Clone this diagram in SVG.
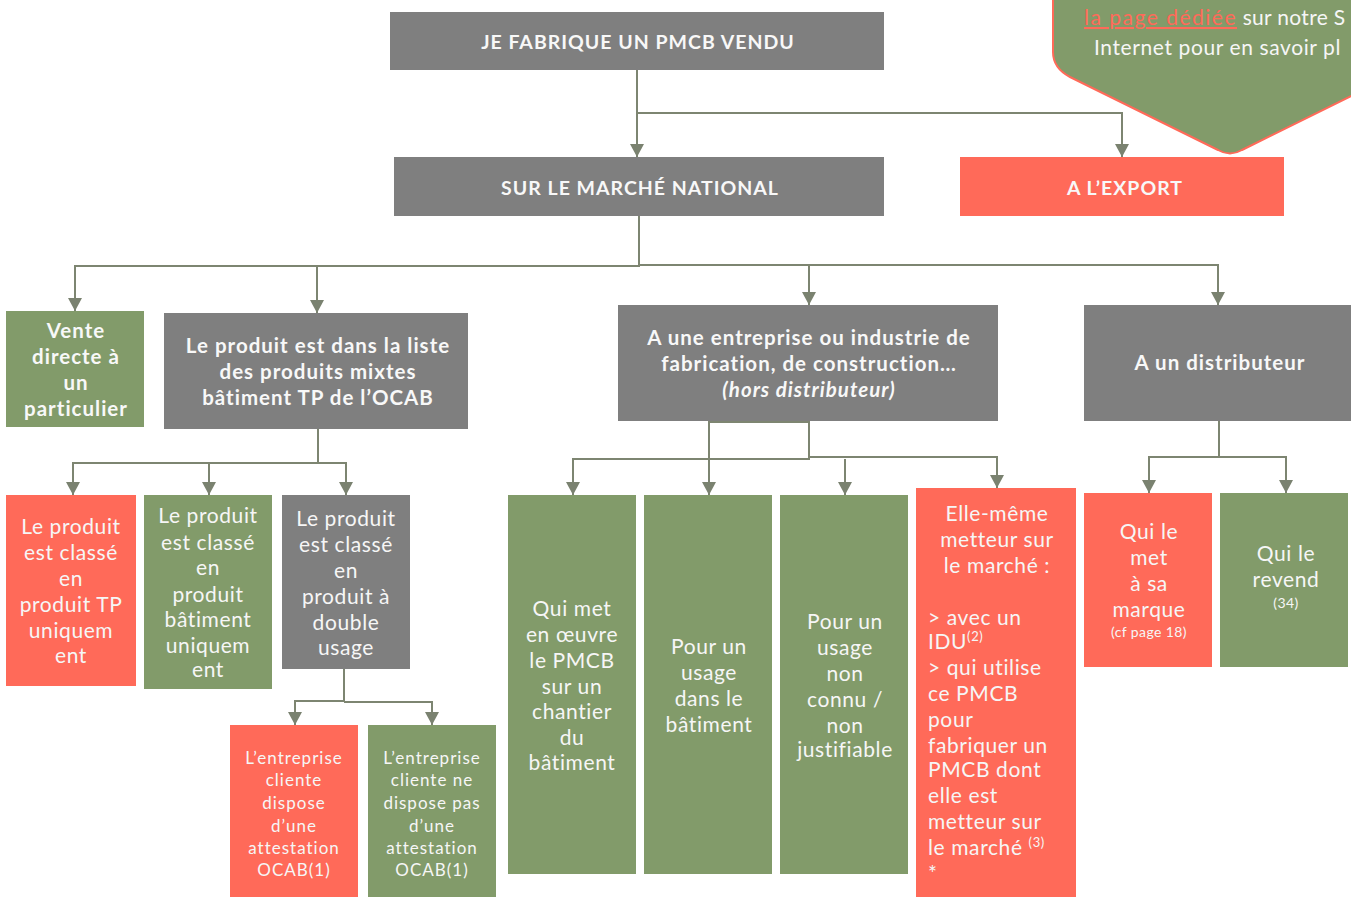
<svg xmlns="http://www.w3.org/2000/svg" width="1351" height="897" viewBox="0 0 1351 897">
<style>
.g{fill:#7f7f7f}.gr{fill:#829b6a}.r{fill:#ff6a59}
.b{font-family:Lato,"Open Sans","Liberation Sans",sans-serif;font-weight:bold;fill:#f8f8f8;text-anchor:middle;letter-spacing:1px}
.l{font-family:Lato,"Open Sans","Liberation Sans",sans-serif;font-weight:normal;fill:#f6f6f6;text-anchor:middle;font-size:21px;letter-spacing:0.6px}
.s{font-size:17px;letter-spacing:1px}
.xs{font-size:14px;letter-spacing:0.4px}
.c{fill:none;stroke:#7d8571;stroke-width:2}
</style>
<defs>
<marker id="a" markerUnits="userSpaceOnUse" viewBox="0 -7 13 14" refX="13" refY="0" markerWidth="13" markerHeight="14" orient="auto">
<path d="M0,-7 L13,0 L0,7 z" fill="#7a8270"/>
</marker>
</defs>

<g id="callout">
<path d="M1053,-10 V52 Q1053,68 1070,77 L1218,150 Q1230,157 1242,150 L1420,62 V-10 Z" fill="#829b6a" stroke="#ff6a59" stroke-width="2"/>
<text class="l" style="text-anchor:start;letter-spacing:0.3px" x="1084" y="25"><tspan fill="#ff6a59" text-decoration="underline" letter-spacing="1.5">la page dédiée</tspan> sur notre S</text>
<text class="l" style="text-anchor:start;letter-spacing:0.6px" x="1094" y="55">Internet pour en savoir pl</text>
</g>

<g id="connectors">
<path class="c" d="M637,70 V157" marker-end="url(#a)"/>
<path class="c" d="M637,113 H1122 V157" marker-end="url(#a)"/>
<path class="c" d="M639,216 V266 H75 V311" marker-end="url(#a)"/>
<path class="c" d="M317,266 V313" marker-end="url(#a)"/>
<path class="c" d="M639,265 H1218 V305" marker-end="url(#a)"/>
<path class="c" d="M809,265 V305" marker-end="url(#a)"/>
<path class="c" d="M318,429 V463 H73 V495" marker-end="url(#a)"/>
<path class="c" d="M209,463 V495" marker-end="url(#a)"/>
<path class="c" d="M318,463 H346 V495" marker-end="url(#a)"/>
<path class="c" d="M344,669 V701 H295 V725" marker-end="url(#a)"/>
<path class="c" d="M344,702 H432 V725" marker-end="url(#a)"/>
<path class="c" d="M709,421 V495" marker-end="url(#a)"/>
<path class="c" d="M709,422 H809 V459 H573 V495" marker-end="url(#a)"/>
<path class="c" d="M845,459 V495" marker-end="url(#a)"/>
<path class="c" d="M809,457 H997 V488" marker-end="url(#a)"/>
<path class="c" d="M1219,421 V457 H1149 V493" marker-end="url(#a)"/>
<path class="c" d="M1219,457 H1286 V493" marker-end="url(#a)"/>
</g>

<g id="n-fabrique">
<rect class="g" x="390" y="12" width="494" height="58"/>
<text class="b" x="638" y="49" font-size="19.5">JE FABRIQUE UN PMCB VENDU</text>
</g>
<g id="n-national">
<rect class="g" x="394" y="157" width="490" height="59"/>
<text class="b" x="640" y="195" font-size="19.5">SUR LE MARCHÉ NATIONAL</text>
</g>
<g id="n-export">
<rect class="r" x="960" y="157" width="324" height="59"/>
<text class="b" x="1125" y="195" font-size="19.5">A L’EXPORT</text>
</g>

<g id="n-vente">
<rect class="gr" x="6" y="311" width="138" height="116"/>
<text class="b" font-size="20.5"><tspan x="76" y="338">Vente</tspan><tspan x="76" y="364">directe à</tspan><tspan x="76" y="390">un</tspan><tspan x="76" y="416">particulier</tspan></text>
</g>
<g id="n-liste">
<rect class="g" x="164" y="313" width="304" height="116"/>
<text class="b" font-size="20.5" letter-spacing="1.1"><tspan x="318" y="353">Le produit est dans la liste</tspan><tspan x="318" y="379">des produits mixtes</tspan><tspan x="318" y="405">bâtiment TP de l’OCAB</tspan></text>
</g>
<g id="n-entreprise">
<rect class="g" x="618" y="305" width="380" height="116"/>
<text class="b" font-size="20.5" letter-spacing="1.1"><tspan x="809" y="345">A une entreprise ou industrie de</tspan><tspan x="809" y="371">fabrication, de construction…</tspan><tspan x="809" y="397" font-style="italic">(hors distributeur)</tspan></text>
</g>
<g id="n-distributeur">
<rect class="g" x="1084" y="305" width="267" height="116"/>
<text class="b" x="1220" y="370" font-size="20.5">A un distributeur</text>
</g>

<g id="n-tp">
<rect class="r" x="6" y="495" width="130" height="191"/>
<text class="l"><tspan x="71" y="534">Le produit</tspan><tspan x="71" y="560">est classé</tspan><tspan x="71" y="586">en</tspan><tspan x="71" y="612">produit TP</tspan><tspan x="71" y="638">uniquem</tspan><tspan x="71" y="663">ent</tspan></text>
</g>
<g id="n-batiment">
<rect class="gr" x="144" y="495" width="128" height="194"/>
<text class="l"><tspan x="208" y="523">Le produit</tspan><tspan x="208" y="550">est classé</tspan><tspan x="208" y="575">en</tspan><tspan x="208" y="602">produit</tspan><tspan x="208" y="627">bâtiment</tspan><tspan x="208" y="653">uniquem</tspan><tspan x="208" y="677">ent</tspan></text>
</g>
<g id="n-double">
<rect class="g" x="282" y="495" width="128" height="174"/>
<text class="l"><tspan x="346" y="526">Le produit</tspan><tspan x="346" y="552">est classé</tspan><tspan x="346" y="578">en</tspan><tspan x="346" y="604">produit à</tspan><tspan x="346" y="630">double</tspan><tspan x="346" y="655">usage</tspan></text>
</g>

<g id="n-dispose">
<rect class="r" x="230" y="725" width="128" height="172"/>
<text class="l s"><tspan x="294" y="764">L’entreprise</tspan><tspan x="294" y="786">cliente</tspan><tspan x="294" y="809">dispose</tspan><tspan x="294" y="832">d’une</tspan><tspan x="294" y="854">attestation</tspan><tspan x="294" y="876">OCAB(1)</tspan></text>
</g>
<g id="n-dispose-pas">
<rect class="gr" x="368" y="725" width="128" height="172"/>
<text class="l s"><tspan x="432" y="764">L’entreprise</tspan><tspan x="432" y="786">cliente ne</tspan><tspan x="432" y="809">dispose pas</tspan><tspan x="432" y="832">d’une</tspan><tspan x="432" y="854">attestation</tspan><tspan x="432" y="876">OCAB(1)</tspan></text>
</g>

<g id="n-chantier">
<rect class="gr" x="508" y="495" width="128" height="379"/>
<text class="l"><tspan x="572" y="616">Qui met</tspan><tspan x="572" y="642">en œuvre</tspan><tspan x="572" y="668">le PMCB</tspan><tspan x="572" y="694">sur un</tspan><tspan x="572" y="719">chantier</tspan><tspan x="572" y="745">du</tspan><tspan x="572" y="770">bâtiment</tspan></text>
</g>
<g id="n-usage-bat">
<rect class="gr" x="644" y="495" width="128" height="379"/>
<text class="l"><tspan x="709" y="654">Pour un</tspan><tspan x="709" y="680">usage</tspan><tspan x="709" y="706">dans le</tspan><tspan x="709" y="732">bâtiment</tspan></text>
</g>
<g id="n-usage-non">
<rect class="gr" x="780" y="495" width="128" height="379"/>
<text class="l"><tspan x="845" y="629">Pour un</tspan><tspan x="845" y="655">usage</tspan><tspan x="845" y="681">non</tspan><tspan x="845" y="707">connu /</tspan><tspan x="845" y="733">non</tspan><tspan x="845" y="757">justifiable</tspan></text>
</g>
<g id="n-elle">
<rect class="r" x="916" y="488" width="160" height="409"/>
<text class="l"><tspan x="997" y="521">Elle-même</tspan><tspan x="997" y="547">metteur sur</tspan><tspan x="997" y="573">le marché :</tspan></text>
<text class="l" style="text-anchor:start"><tspan x="928" y="625">&gt; avec un</tspan><tspan x="928" y="649">IDU<tspan font-size="13" dy="-8">(2)</tspan></tspan><tspan x="928" y="675">&gt; qui utilise</tspan><tspan x="928" y="701">ce PMCB</tspan><tspan x="928" y="727">pour</tspan><tspan x="928" y="753">fabriquer un</tspan><tspan x="928" y="777">PMCB dont</tspan><tspan x="928" y="803">elle est</tspan><tspan x="928" y="829">metteur sur</tspan><tspan x="928" y="855">le marché <tspan font-size="13" dy="-8">(3)</tspan></tspan><tspan x="928" y="881">*</tspan></text>
</g>
<g id="n-marque">
<rect class="r" x="1084" y="493" width="128" height="174"/>
<text class="l"><tspan x="1149" y="539">Qui le</tspan><tspan x="1149" y="565">met</tspan><tspan x="1149" y="591">à sa</tspan><tspan x="1149" y="617">marque</tspan></text>
<text class="l xs" x="1149" y="637">(cf page 18)</text>
</g>
<g id="n-revend">
<rect class="gr" x="1220" y="493" width="128" height="174"/>
<text class="l"><tspan x="1286" y="561">Qui le</tspan><tspan x="1286" y="587">revend</tspan></text>
<text class="l xs" x="1286" y="608">(34)</text>
</g>
</svg>
